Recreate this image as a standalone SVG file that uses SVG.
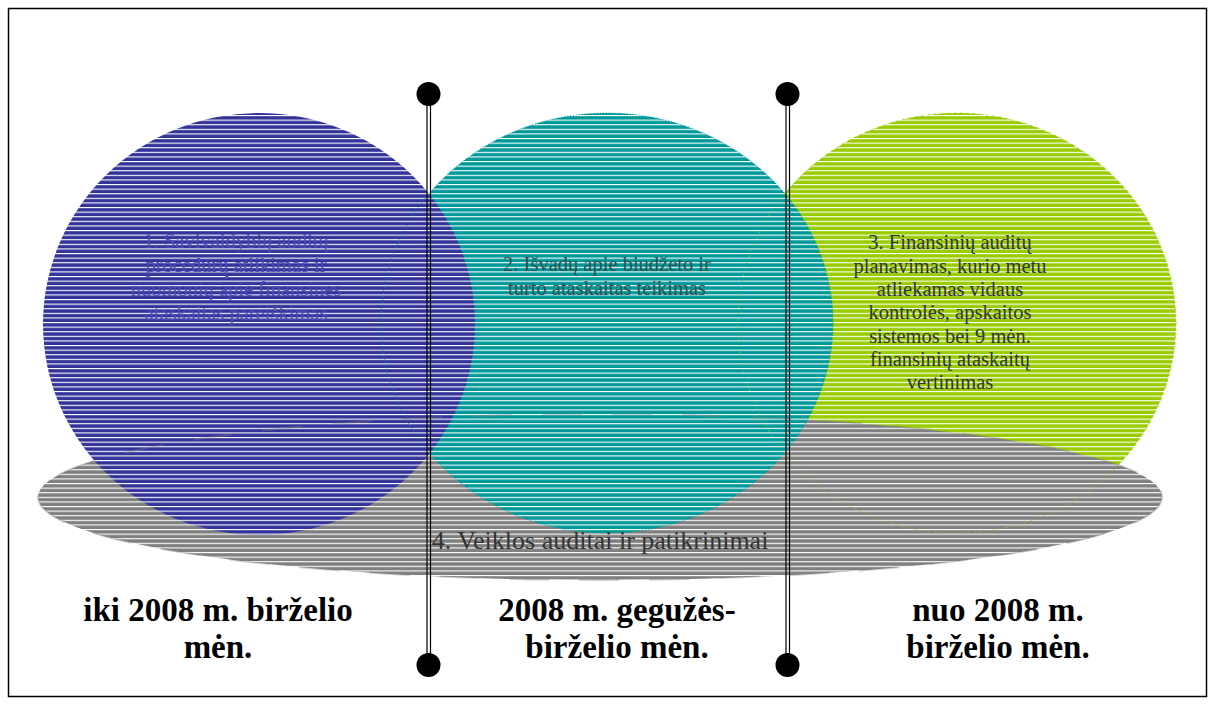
<svg xmlns="http://www.w3.org/2000/svg" width="1215" height="704" viewBox="0 0 1215 704">
  <style>
    .lbl { font-family: "Liberation Serif", "Times New Roman", serif; font-weight: bold; font-size: 33px; fill: #000; text-anchor: middle; }
    .in { font-family: "Liberation Serif", "Times New Roman", serif; font-size: 20.5px; text-anchor: middle; }
    .div { stroke: #000; stroke-width: 1.2; fill: none; }
    .dot { fill: #000; }
  </style>
  <defs>
    <pattern id="pBlue" patternUnits="userSpaceOnUse" width="10" height="4.6">
      <rect width="10" height="4.6" fill="#333399"/>
      <rect y="0" width="10" height="1.1" fill="#ffffff"/>
    </pattern>
    <pattern id="pTeal" patternUnits="userSpaceOnUse" width="10" height="4.6">
      <rect width="10" height="4.6" fill="#009999"/>
      <rect y="0" width="10" height="1.1" fill="#ffffff"/>
    </pattern>
    <pattern id="pGreen" patternUnits="userSpaceOnUse" width="10" height="4.6">
      <rect width="10" height="4.6" fill="#99cc00"/>
      <rect y="0" width="10" height="1.1" fill="#ffffff"/>
    </pattern>
    <pattern id="pGrey" patternUnits="userSpaceOnUse" width="10" height="4.6">
      <rect width="10" height="4.6" fill="#808080"/>
      <rect y="0" width="10" height="1.1" fill="#ffffff"/>
    </pattern>
  </defs>

  <rect x="0" y="0" width="1215" height="704" fill="#ffffff"/>
  <rect id="frame" x="8.5" y="8.5" width="1198" height="688" fill="none" stroke="#000" stroke-width="1.5"/>

  <g id="node3">
    <ellipse cx="957" cy="323" rx="219" ry="210" fill="url(#pGreen)"/>
  </g>
  <g id="node4">
    <ellipse cx="600" cy="497" rx="562" ry="83" fill="url(#pGrey)"/>
  </g>
  <g id="node2">
    <ellipse cx="607" cy="323" rx="226" ry="210" fill="url(#pTeal)"/>
  </g>
  <g id="node1">
    <ellipse cx="259" cy="324" rx="216" ry="211" fill="url(#pBlue)"/>
  </g>

  <g id="hidden-outlines" fill="none">
    <ellipse cx="600" cy="497" rx="562" ry="83" stroke="#808080" stroke-width="2" stroke-opacity="0.35" stroke-dasharray="40 30"/>
    <ellipse cx="607" cy="323" rx="226" ry="210" stroke="#009999" stroke-width="1" stroke-dasharray="1 2"/>
    <ellipse cx="957" cy="323" rx="219" ry="210" stroke="#99cc00" stroke-width="1" stroke-dasharray="1.5 5"/>
  </g>

  <g id="node1-text" class="in" fill="#4a4ab4">
    <text x="236" y="248">1. Savivaldybių auditų</text>
    <text x="236" y="272">procedūrų atlikimas ir</text>
    <text x="236" y="296">nuomonių apie finansines</text>
    <text x="236" y="320">ataskaitas pareiškimas</text>
  </g>
  <g id="node2-text" class="in" fill="#2f4f4f">
    <text x="607" y="271">2. Išvadų apie biudžeto ir</text>
    <text x="607" y="295">turto ataskaitas teikimas</text>
  </g>
  <g id="node3-text" class="in" fill="#333333">
    <text x="950" y="249">3. Finansinių auditų</text>
    <text x="950" y="273">planavimas, kurio metu</text>
    <text x="950" y="296">atliekamas vidaus</text>
    <text x="950" y="319">kontrolės, apskaitos</text>
    <text x="950" y="343">sistemos bei 9 mėn.</text>
    <text x="950" y="366">finansinių ataskaitų</text>
    <text x="950" y="389">vertinimas</text>
  </g>
  <g id="node4-text">
    <text x="600" y="549" font-family="Liberation Serif, Times New Roman, serif" font-size="26" fill="#333333" text-anchor="middle">4. Veiklos auditai ir patikrinimai</text>
  </g>

  <g id="connectors">
    <line class="div" x1="427" y1="94" x2="427" y2="665"/>
    <line class="div" x1="430.5" y1="94" x2="430.5" y2="665"/>
    <circle class="dot" cx="428.5" cy="94" r="12"/>
    <circle class="dot" cx="428.5" cy="665" r="12"/>
    <line class="div" x1="786" y1="94" x2="786" y2="665"/>
    <line class="div" x1="789.5" y1="94" x2="789.5" y2="665"/>
    <circle class="dot" cx="787.5" cy="94" r="12"/>
    <circle class="dot" cx="787.5" cy="665" r="12"/>
  </g>

  <g id="period1">
    <text class="lbl" x="218" y="621">iki 2008 m. birželio</text>
    <text class="lbl" x="218" y="658">mėn.</text>
  </g>
  <g id="period2">
    <text class="lbl" x="617" y="621">2008 m. gegužės-</text>
    <text class="lbl" x="617" y="658">birželio mėn.</text>
  </g>
  <g id="period3">
    <text class="lbl" x="998" y="621">nuo 2008 m.</text>
    <text class="lbl" x="998" y="658">birželio mėn.</text>
  </g>
</svg>
